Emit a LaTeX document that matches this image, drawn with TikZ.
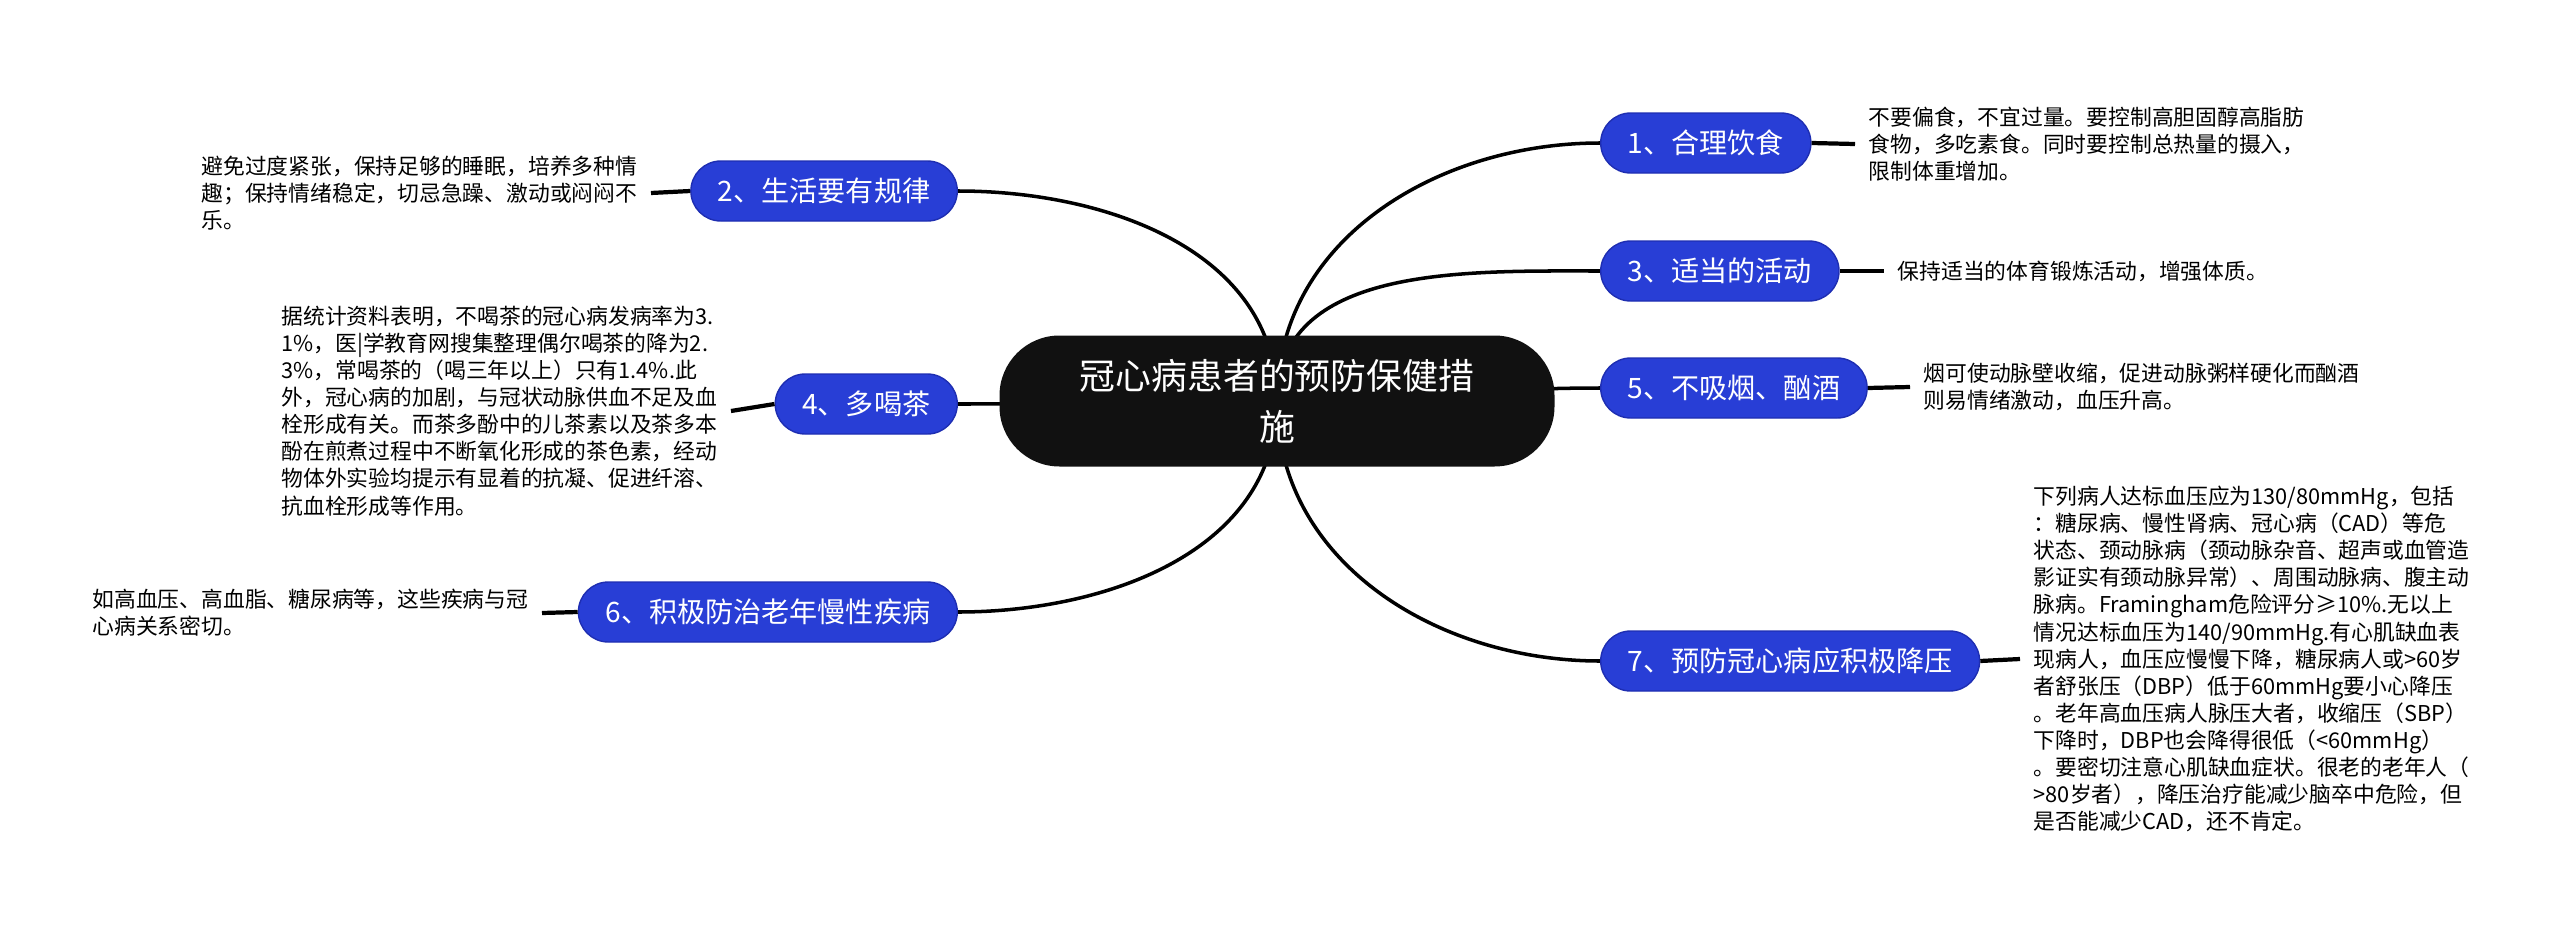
\documentclass[tikz,border=0pt]{standalone}
\usepackage{fontspec}
\usepackage{tikz}
\usetikzlibrary{backgrounds}
\newfontfamily\cjk{Noto Sans CJK SC}
\definecolor{astblau}{RGB}{40, 62, 214}
\definecolor{astrand}{RGB}{30, 46, 178}
\definecolor{kernschwarz}{RGB}{17, 17, 17}

\begin{document}
\begin{tikzpicture}[x=10mm, y=10mm, font=\cjk,
	kern/.style={fill=kernschwarz, text=white, rounded corners=6mm, minimum width=55.5mm, minimum height=13.1mm, align=center, font=\cjk\fontsize{10.2pt}{14.5pt}\selectfont},
	ast/.style={fill=astblau, draw=astrand, line width=0.4pt, text=white, rounded corners=3mm, minimum height=6mm, inner xsep=2.7mm, font=\cjk\fontsize{8pt}{10pt}\selectfont},
	info/.style={align=left, inner xsep=1.3mm, inner ysep=0pt, font=\cjk\fontsize{6.2pt}{7.7pt}\selectfont},
	zweig/.style={line width=1pt, black},
	stiel/.style={line width=1.2pt, black}]
			% Bildbereich
			\useasboundingbox (0,0) rectangle (25.6,-9.41);
			% Hauptknoten
			\node[kern] (kern) at (12.77,-4.01) {冠心病患者的预防保健措\\施};
			% Aeste rechts
			\node[ast, anchor=west] (n1) at (16.00,-1.43) {1、合理饮食};
			\node[ast, anchor=west] (n3) at (16.00,-2.71) {3、适当的活动};
			\node[ast, anchor=west] (n5) at (16.00,-3.88) {5、不吸烟、酗酒};
			\node[ast, anchor=west] (n7) at (16.00,-6.61) {7、预防冠心病应积极降压};
			% Aeste links
			\node[ast, anchor=east] (n2) at (9.58,-1.91) {2、生活要有规律};
			\node[ast, anchor=east] (n4) at (9.58,-4.04) {4、多喝茶};
			\node[ast, anchor=east] (n6) at (9.58,-6.12) {6、积极防治老年慢性疾病};
			% Texte
			\node[info, anchor=west] (d1) at (18.55,-1.44) {不要偏食，不宜过量。要控制高胆固醇高脂肪\\食物，多吃素食。同时要控制总热量的摄入，\\限制体重增加。};
			\node[info, anchor=west] (d3) at (18.84,-2.71) {保持适当的体育锻炼活动，增强体质。};
			\node[info, anchor=west] (d5) at (19.10,-3.87) {烟可使动脉壁收缩，促进动脉粥样硬化而酗酒\\则易情绪激动，血压升高。};
			\node[info, anchor=west] (d7) at (20.20,-6.59) {下列病人达标血压应为130/80mmHg，包括\\：糖尿病、慢性肾病、冠心病（CAD）等危\\状态、颈动脉病（颈动脉杂音、超声或血管造\\影证实有颈动脉异常）、周围动脉病、腹主动\\脉病。Framingham危险评分≥10\%.无以上\\情况达标血压为140/90mmHg.有心肌缺血表\\现病人，血压应慢慢下降，糖尿病人或>60岁\\者舒张压（DBP）低于60mmHg要小心降压\\。老年高血压病人脉压大者，收缩压（SBP）\\下降时，DBP也会降得很低（<60mmHg）\\。要密切注意心肌缺血症状。很老的老年人（\\>80岁者），降压治疗能减少脑卒中危险，但\\是否能减少CAD，还不肯定。};
			\node[info, anchor=east] (d2) at (6.51,-1.93) {避免过度紧张，保持足够的睡眠，培养多种情\\趣；保持情绪稳定，切忌急躁、激动或闷闷不\\乐。};
			\node[info, anchor=east] (d4) at (7.31,-4.11) {据统计资料表明，不喝茶的冠心病发病率为3.\\1\%，医|学教育网搜集整理偶尔喝茶的降为2.\\3\%，常喝茶的（喝三年以上）只有1.4\%.此\\外，冠心病的加剧，与冠状动脉供血不足及血\\栓形成有关。而茶多酚中的儿茶素以及茶多本\\酚在煎煮过程中不断氧化形成的茶色素，经动\\物体外实验均提示有显着的抗凝、促进纤溶、\\抗血栓形成等作用。};
			\node[info, anchor=east] (d6) at (5.42,-6.13) {如高血压、高血脂、糖尿病等，这些疾病与冠\\心病关系密切。};
			% Verbindungen
			\begin{scope}[on background layer]
				\draw[zweig] (kern.center) to[out=90, in=180] (n1.west);
				\draw[zweig] (kern.center) to[out=90, in=180] (n3.west);
				\draw[zweig] (kern.center) to[out=0, in=180] (n5.west);
				\draw[zweig] (kern.center) to[out=-90, in=180] (n7.west);
				\draw[zweig] (kern.center) to[out=90, in=0] (n2.east);
				\draw[zweig] (kern.center) to[out=180, in=0] (n4.east);
				\draw[zweig] (kern.center) to[out=-90, in=0] (n6.east);
			\end{scope}
			\foreach \a/\b in {n1/d1, n3/d3, n5/d5, n7/d7} \draw[stiel] (\a.east) -- (\b.west);
			\foreach \a/\b in {n2/d2, n4/d4, n6/d6} \draw[stiel] (\a.west) -- (\b.east);
		\end{tikzpicture}
\end{document}
